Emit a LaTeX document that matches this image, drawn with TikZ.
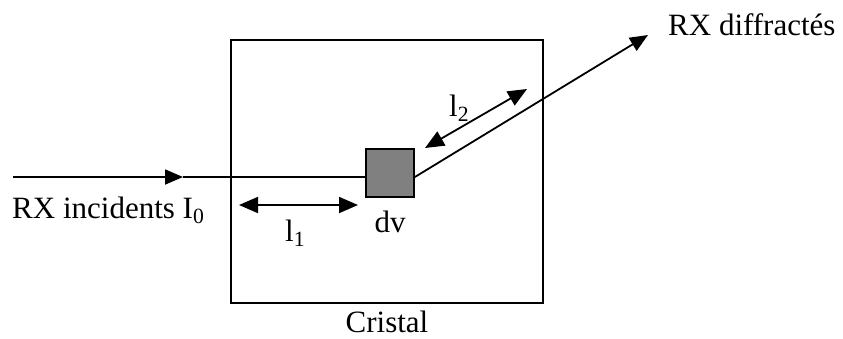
\documentclass[tikz,border=0pt]{standalone}
\usepackage{fontspec}
\setmainfont{Liberation Serif}
\usetikzlibrary{positioning, arrows.meta}
\definecolor{dvfill}{gray}{0.5}
\tikzset{
  rxline/.style   = {line width=1.8pt},
  rxarrow/.style  = {rxline, -{Triangle[length=18pt,width=15pt]}},
  rxdouble/.style = {rxline, {Triangle[length=19pt,width=16pt]}-{Triangle[length=19pt,width=16pt]}},
  rxlbl/.style    = {font=\fontsize{31}{36}\selectfont, inner sep=0pt}
}
\begin{document}
\begin{tikzpicture}[x=1pt, y=-1pt]
  \useasboundingbox (0,0) rectangle (843,338);

  \node[draw, rxline, minimum width=312pt, minimum height=263pt, inner sep=0pt] (cristal) at (387,171.5) {};
  \node[draw, rxline, fill=dvfill, minimum size=48pt, inner sep=0pt] (dv) at (390,173) {};

  \coordinate (src)   at (13,177);
  \coordinate (inmid) at (183,177);
  \coordinate (out)   at (648,35);
  \coordinate (l1a)   at (239,205);
  \coordinate (l1b)   at (358,205);
  \coordinate (l2a)   at (425,148);
  \coordinate (l2b)   at (527,89);

  \draw[rxarrow]  (src) -- (inmid);
  \draw[rxline]   (inmid) -- (inmid -| dv.west);
  \draw[rxarrow]  (dv.east |- inmid) -- (out);
  \draw[rxdouble] (l1a) -- (l1b);
  \draw[rxdouble] (l2a) -- (l2b);

  \node[rxlbl, anchor=base west] (inlbl)  at (12,218) {RX incidents I\textsubscript{0}};
  \node[rxlbl, anchor=base west] (outlbl) at (668,35) {RX diffractés};
  \node[rxlbl, anchor=base west] (l1lbl)  at (285,241) {l\textsubscript{1}};
  \node[rxlbl, anchor=base west] (l2lbl)  at (449,116) {l\textsubscript{2}};
  \node[rxlbl, below=13pt of dv]      (dvlbl)      {dv};
  \node[rxlbl, below=7pt of cristal]  (cristallbl) {Cristal};
\end{tikzpicture}
\end{document}
